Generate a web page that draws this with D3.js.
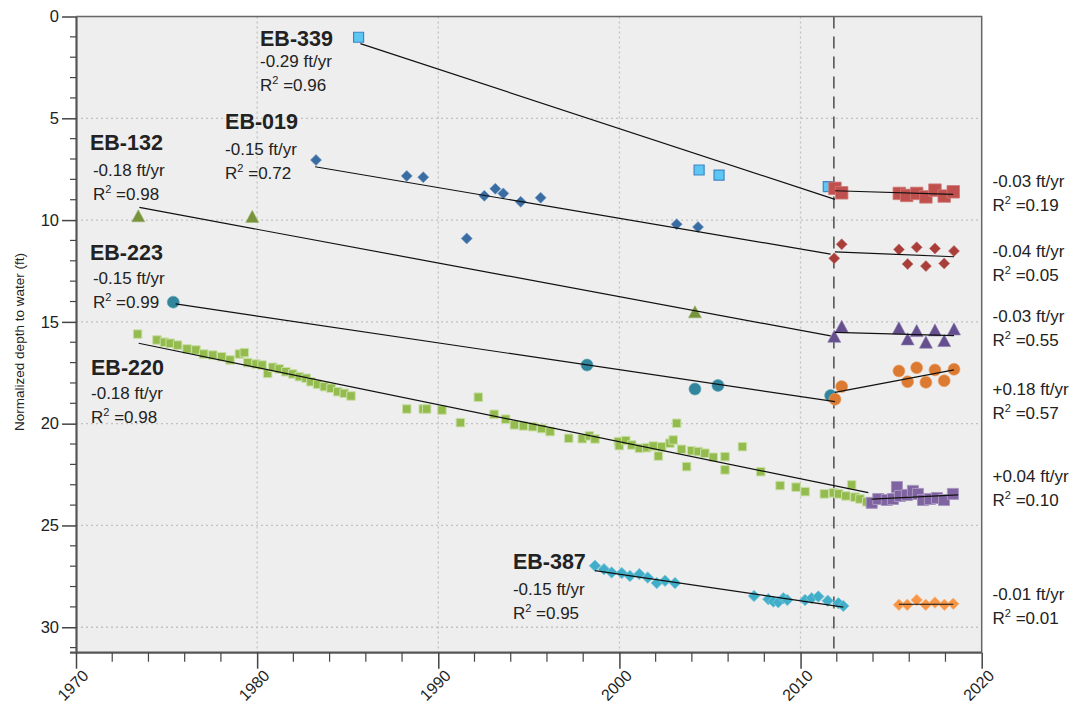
<!DOCTYPE html>
<html><head><meta charset="utf-8">
<script src="https://cdn.jsdelivr.net/npm/d3@7"></script>
<style>
body{margin:0;background:#fff}
svg{display:block;font-family:"Liberation Sans",Arial,sans-serif}
</style>
</head><body>
<svg id="chart" width="1080" height="704"></svg>
<script>
// ---------- data ----------
const xTicks = [1970, 1980, 1990, 2000, 2010, 2020];
const yTicks = [0, 5, 10, 15, 20, 25, 30];
const changeYear = 2011.84;

const eb339 = [[1985.6,1.02],[2004.4,7.54],[2005.5,7.79],[2011.53,8.36]];
const eb339Post = [[2011.90,8.44],[2012.27,8.66],[2015.45,8.69],[2015.86,8.79],[2016.41,8.69],[2016.92,8.86],[2017.42,8.53],[2017.93,8.82],[2018.43,8.61]];

const eb019 = [[1983.25,7.05],[1988.26,7.83],[1989.17,7.89],[1991.57,10.90],[1992.54,8.81],[1993.15,8.46],[1993.59,8.69],[1994.55,9.10],[1995.65,8.90],[2003.16,10.20],[2004.34,10.34]];
const eb019Post = [[2011.86,11.88],[2012.27,11.19],[2015.43,11.44],[2015.91,12.16],[2016.41,11.34],[2016.92,12.26],[2017.42,11.39],[2017.93,12.13],[2018.47,11.52]];

const eb132 = [[1973.44,9.84],[1979.73,9.87],[2004.17,14.56]];
const eb132Post = [[2011.86,15.76],[2012.27,15.27],[2015.43,15.35],[2015.91,15.89],[2016.41,15.48],[2016.92,16.05],[2017.42,15.45],[2017.93,15.97],[2018.47,15.40]];

const eb223 = [[1975.37,14.03],[1998.21,17.12],[2004.17,18.30],[2005.44,18.12],[2011.66,18.62]];
const eb223Post = [[2011.90,18.80],[2012.27,18.18],[2015.43,17.41],[2015.91,17.94],[2016.41,17.25],[2016.92,17.97],[2017.42,17.36],[2017.93,17.89],[2018.47,17.33]];

const eb220 = [
  [1973.40,15.60],[1974.47,15.89],[1974.88,16.00],[1975.20,16.05],[1975.61,16.14],[1976.13,16.33],[1976.62,16.38],
  [1977.05,16.58],[1977.55,16.63],[1978.04,16.71],[1978.50,16.87],[1979.02,16.58],[1979.29,16.51],[1979.48,17.00],
  [1979.94,17.07],[1980.27,17.12],[1980.58,17.53],[1980.86,17.23],[1981.22,17.31],[1981.59,17.45],[1981.96,17.56],
  [1982.33,17.69],[1982.70,17.77],[1982.97,17.94],[1983.34,18.07],[1983.71,18.18],[1984.08,18.26],[1984.45,18.43],
  [1984.81,18.51],[1985.18,18.64],
  [1988.26,19.28],[1989.17,19.28],[1989.36,19.28],[1990.20,19.33],[1991.22,19.95],[1992.21,18.70],[1993.08,19.54],
  [1993.72,19.78],[1994.20,20.06],[1994.70,20.11],[1995.21,20.15],[1995.71,20.24],[1996.17,20.39],[1997.20,20.72],
  [1997.95,20.74],[1998.34,20.60],[1998.65,20.75],[1999.94,20.88],[1999.99,21.08],[2000.35,20.83],[2000.68,21.05],
  [2001.10,21.21],[2001.51,21.18],[2001.87,21.10],[2002.15,21.59],[2002.33,21.13],[2002.79,20.96],[2002.97,20.80],
  [2003.16,19.98],[2003.43,21.26],[2003.71,22.11],[2003.99,21.33],[2004.35,21.37],[2004.72,21.45],
  [2005.18,21.65],[2005.83,21.62],[2005.83,22.27],[2006.79,21.13],[2007.80,22.36],[2008.87,23.04],[2009.75,23.12],
  [2010.25,23.34],[2011.31,23.45],[2011.81,23.40],[2012.10,23.45],[2012.50,23.55],[2012.82,23.01],[2013.00,23.61],
  [2013.28,23.70],[2013.65,23.84]
];
const eb220Post = [[2013.93,23.89],[2014.29,23.70],[2014.76,23.75],[2015.10,23.70],[2015.32,23.11],[2015.49,23.55],[2015.87,23.50],[2016.20,23.30],[2016.48,23.45],[2016.76,23.75],[2017.14,23.70],[2017.53,23.65],[2017.92,23.75],[2018.41,23.45]];

const eb387 = [[1998.65,26.98],[1999.15,27.15],[1999.57,27.31],[2000.13,27.34],[2000.58,27.48],[2001.10,27.39],[2001.56,27.56],[2002.06,27.83],[2002.52,27.72],[2003.07,27.83],[2007.43,28.46],[2008.22,28.62],[2008.50,28.74],[2008.77,28.77],[2009.05,28.57],[2009.27,28.66],[2010.25,28.66],[2010.61,28.57],[2010.98,28.49],[2011.50,28.70],[2012.09,28.82],[2012.36,28.95]];
const eb387Post = [[2015.43,28.90],[2015.89,28.90],[2016.41,28.66],[2016.91,28.90],[2017.42,28.79],[2017.94,28.90],[2018.43,28.85]];

// trend lines: [start, end] as [year, depth]
const trend339 = [[1985.7,1.33],[2011.9,8.98]];
const trend339Post = [[2011.9,8.56],[2018.43,8.74]];
const trend019 = [[1983.2,7.38],[2011.66,11.67]];
const trend019Post = [[2011.9,11.56],[2018.47,11.80]];
const trend132 = [[1973.5,9.38],[2011.66,15.69]];
const trend132Post = [[2011.9,15.52],[2018.47,15.68]];
const trend223 = [[1975.5,14.12],[2011.9,18.92]];
const trend223Post = [[2011.9,18.46],[2018.47,17.36]];
const trend220 = [[1973.46,16.05],[2013.74,23.39]];
const trend220Post = [[2013.93,23.71],[2018.7,23.50]];
const trend387 = [[1998.65,27.22],[2012.36,29.01]];
const trend387Post = [[2015.43,28.87],[2018.43,28.87]];

// well labels
const wellNames = ["EB-339","EB-019","EB-132","EB-223","EB-220","EB-387"];
const wellRates = ["-0.29 ft/yr","-0.15 ft/yr","-0.18 ft/yr","-0.15 ft/yr","-0.18 ft/yr","-0.15 ft/yr"];
const wellR2 = ["0.96","0.72","0.98","0.99","0.98","0.95"];
const postRates = ["-0.03 ft/yr","-0.04 ft/yr","-0.03 ft/yr","+0.18 ft/yr","+0.04 ft/yr","-0.01 ft/yr"];
const postR2 = ["0.19","0.05","0.55","0.57","0.10","0.01"];

// ---------- layout ----------
const labelAt = [[1980.16,1.43],[1978.23,5.55],[1970.77,6.55],[1970.77,11.95],[1970.83,17.6],[1994.12,27.15]];
const labelGap = [21,26,26,24,24,26];
const labelIndent = [0,0,3,3,0,0];
const postLabelDepth = [8.37,11.83,14.99,18.59,22.88,28.66];

const x = d3.scaleLinear().domain([1970, 2020]).range([76, 981.7]);
const y = d3.scaleLinear().domain([0, 31.25]).range([16.5, 652.7]);

const svg = d3.select("#chart");

// plot background
svg.append("rect").attr("x", x(1970)).attr("y", y(0))
  .attr("width", x(2020) - x(1970)).attr("height", y(31.25) - y(0)).attr("fill", "#eeeeee");

// grid
const grid = svg.append("g");
grid.selectAll(".gx").data(xTicks.filter(d => d > 1970 && d < 2020)).join("line")
  .attr("x1", d => x(d)).attr("x2", d => x(d)).attr("y1", y(0)).attr("y2", y(31.25))
  .attr("stroke", "#c2c2c2").attr("stroke-width", 1.3).attr("stroke-dasharray", "2,3");
grid.selectAll(".gy").data(yTicks.filter(d => d > 0)).join("line")
  .attr("x1", x(1970)).attr("x2", x(2020)).attr("y1", d => y(d)).attr("y2", d => y(d))
  .attr("stroke", "#c2c2c2").attr("stroke-width", 1.3).attr("stroke-dasharray", "2,3");

// dashed change line
svg.append("line").attr("x1", x(changeYear)).attr("x2", x(changeYear))
  .attr("y1", y(0)).attr("y2", y(31.25))
  .attr("stroke", "#333").attr("stroke-width", 1.3).attr("stroke-dasharray", "12,8");

// marker shapes
const shapes = {
  square: s => `M${-s/2},${-s/2}h${s}v${s}h${-s}Z`,
  diamond: s => `M0,${-s/2}L${s/2},0L0,${s/2}L${-s/2},0Z`,
  triangle: s => `M0,${-s*0.55}L${s/2},${s*0.38}L${-s/2},${s*0.38}Z`,
  circle: s => d3.arc()({innerRadius:0, outerRadius:s/2, startAngle:0, endAngle:2*Math.PI})
};

const series = [
  {data: eb339, shape: "square", size: 10, fill: "#5cc7f2", stroke: "#3d85c6", sw: 1.2},
  {data: eb339Post, shape: "square", size: 12.5, fill: "#c0504d", stroke: "#d27a77", sw: 0.8},
  {data: eb019, shape: "diamond", size: 11, fill: "#386ca3", stroke: "#6a93bf", sw: 0.6},
  {data: eb019Post, shape: "diamond", size: 11, fill: "#a83d39", stroke: "#c06f6b", sw: 0.6},
  {data: eb132, shape: "triangle", size: 13, fill: "#77933c", stroke: "#9bb36a", sw: 0.6},
  {data: eb132Post, shape: "triangle", size: 13, fill: "#654f8e", stroke: "#8c7aad", sw: 0.6},
  {data: eb223, shape: "circle", size: 12, fill: "#31869e", stroke: "#5da3b7", sw: 0.6},
  {data: eb223Post, shape: "circle", size: 12, fill: "#dd7a31", stroke: "#eaa06a", sw: 0.6},
  {data: eb220, shape: "square", size: 8.5, fill: "#93bb4e", stroke: "#c9dfa6", sw: 1},
  {data: eb220Post, shape: "square", size: 11, fill: "#8064a2", stroke: "#a796bf", sw: 1},
  {data: eb387, shape: "diamond", size: 11.5, fill: "#40aec8", stroke: "#7cc8da", sw: 0.8},
  {data: eb387Post, shape: "diamond", size: 11.5, fill: "#f79646", stroke: "#fab57c", sw: 0.8}
];

const marks = svg.append("g");
series.forEach(s => {
  marks.append("g").selectAll("path").data(s.data).join("path")
    .attr("transform", d => `translate(${x(d[0])},${y(d[1])})`)
    .attr("d", shapes[s.shape](s.size))
    .attr("fill", s.fill).attr("stroke", s.stroke).attr("stroke-width", s.sw);
});

// trend lines
const trends = [trend339, trend339Post, trend019, trend019Post, trend132, trend132Post,
  trend223, trend223Post, trend220, trend220Post, trend387, trend387Post];
const lineGen = d3.line().x(d => x(d[0])).y(d => y(d[1]));
svg.append("g").selectAll("path").data(trends).join("path")
  .attr("d", lineGen).attr("fill", "none").attr("stroke", "#111").attr("stroke-width", 1.2);

// frame: top & right
svg.append("path")
  .attr("d", `M${x(1970)},${y(0)}H${x(2020)}V${y(31.25)}`)
  .attr("fill", "none").attr("stroke", "#666").attr("stroke-width", 1.5);

// y axis
const yAxis = d3.axisLeft(y).tickValues(yTicks).tickSize(14).tickPadding(3).tickSizeOuter(0);
const gy = svg.append("g").attr("transform", `translate(${x(1970)},0)`).call(yAxis);
gy.select(".domain").attr("stroke", "#555").attr("stroke-width", 2.2);
gy.selectAll(".tick line").attr("stroke", "#444").attr("stroke-width", 1.5);
gy.selectAll(".tick text").attr("font-size", 16.5).attr("fill", "#222")
  .attr("font-family", "Liberation Sans, Arial, sans-serif");
const yMinor = d3.range(1, 32).filter(d => d % 5 !== 0);
svg.append("g").selectAll("line").data(yMinor).join("line")
  .attr("x1", x(1970) - 6).attr("x2", x(1970)).attr("y1", d => y(d)).attr("y2", d => y(d))
  .attr("stroke", "#444").attr("stroke-width", 1.2);

// x axis
const xAxis = d3.axisBottom(x).tickValues(xTicks).tickSize(16).tickFormat(d3.format("d")).tickSizeOuter(0);
const gx = svg.append("g").attr("transform", `translate(0,${y(31.25)})`).call(xAxis);
gx.select(".domain").attr("stroke", "#555").attr("stroke-width", 2.2)
  .attr("d", `M${x(1970)-6},0H${x(2020)}`);
gx.selectAll(".tick line").attr("stroke", "#444").attr("stroke-width", 1.5);
gx.selectAll(".tick text").attr("font-size", 16).attr("fill", "#222")
  .attr("font-family", "Liberation Sans, Arial, sans-serif")
  .attr("text-anchor", "end").attr("dy", null).attr("y", null)
  .attr("transform", "translate(13,24) rotate(-45)");
const xMinor = d3.range(1972, 2020, 2).filter(d => d % 10 !== 0);
svg.append("g").selectAll("line").data(xMinor).join("line")
  .attr("x1", d => x(d)).attr("x2", d => x(d)).attr("y1", y(31.25)).attr("y2", y(31.25) + 9)
  .attr("stroke", "#444").attr("stroke-width", 1.2);

// y axis title
svg.append("text")
  .attr("transform", `translate(24,342) rotate(-90)`)
  .attr("text-anchor", "middle").attr("font-size", 13.5).attr("fill", "#222")
  .text("Normalized depth to water (ft)");

// R² text helper
function r2Text(sel, val) {
  sel.append("tspan").text("R");
  sel.append("tspan").attr("font-size", 11).attr("dy", -7).text("2");
  sel.append("tspan").attr("dy", 7).text(" =" + val);
}

// well labels (left)
const lab = svg.append("g").attr("fill", "#222");
wellNames.forEach((name, i) => {
  const px = x(labelAt[i][0]), py = y(labelAt[i][1]);
  lab.append("text").attr("x", px).attr("y", py).attr("font-size", 21.5).attr("font-weight", "bold").text(name);
  lab.append("text").attr("x", px + labelIndent[i]).attr("y", py + labelGap[i]).attr("font-size", 17).text(wellRates[i]);
  const t = lab.append("text").attr("x", px + labelIndent[i]).attr("y", py + labelGap[i] + 24).attr("font-size", 17);
  r2Text(t, wellR2[i]);
});

// post-2012 labels (right)
postRates.forEach((r, i) => {
  const py = y(postLabelDepth[i]);
  lab.append("text").attr("x", 992.5).attr("y", py).attr("font-size", 17).text(r);
  const t = lab.append("text").attr("x", 992.5).attr("y", py + 24).attr("font-size", 17);
  r2Text(t, postR2[i]);
});
</script>
</body></html>
